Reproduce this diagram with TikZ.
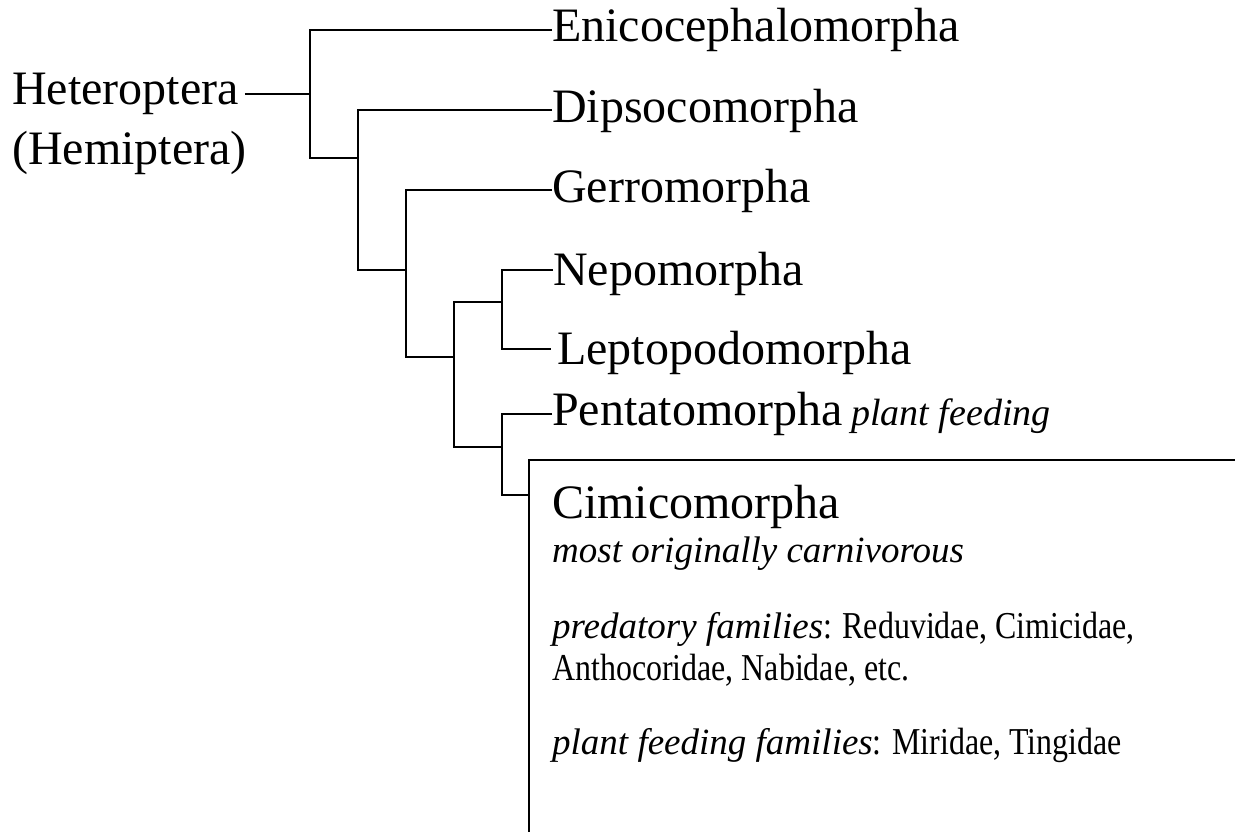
\documentclass[tikz,border=0pt]{standalone}
\usepackage{fontspec}
\setmainfont{Liberation Serif}
\newfontfamily\condfont[FakeStretch=0.84]{Liberation Serif}
\begin{document}
\begin{tikzpicture}[x=1pt,y=-1pt,
  taxon/.style={inner sep=0pt, anchor=west, font=\fontsize{48}{57}\selectfont},
  boxtxt/.style={inner sep=0pt, anchor=base west},
  branch/.style={draw=black, line width=2pt, line join=miter}]
\useasboundingbox (0,0) rectangle (1235,832);

% labels of the root
\node[taxon] (hetero) at (12,94) {Heteroptera};
\node[taxon, anchor=base west] (hemi) at (12,165) {(Hemiptera)};

% junctions
\coordinate (r) at (310,94);
\coordinate (nB) at (358,158);
\coordinate (nC) at (406,270);
\coordinate (nD) at (454,357);
\coordinate (nE) at (502,302);
\coordinate (nF) at (502,447);
\coordinate (boxjoin) at (529,495);
\coordinate (boxBL) at (529,832);
\coordinate (boxTR) at (1235,460);

% taxa
\node[taxon] (enico) at (552,30) {Enicocephalomorpha};
\node[taxon] (dipso) at (552,111) {Dipsocomorpha};
\node[taxon] (gerro) at (552,191) {Gerromorpha};
\node[taxon] (nepo) at (553,274) {Nepomorpha};
\node[taxon] (lepto) at (557,353) {Leptopodomorpha};
\node[taxon] (penta) at (552,414) {Pentatomorpha};
\node[boxtxt, font=\itshape\fontsize{38}{46}\selectfont] (pfeed) at ([xshift=8pt]penta.base east) {plant feeding};

% tree
\draw[branch] ([xshift=6pt]hetero.east) -- (r);
\draw[branch] (enico.west) -| (r) |- (nB);
\draw[branch] ([yshift=1pt]dipso.west) -| (nB) |- (nC);
\draw[branch] ([yshift=1pt]gerro.west) -| (nC) |- (nD);
\draw[branch] (nE) -| (nD) |- (nF);
\draw[branch] ([yshift=4pt]nepo.west) -| (nE) |- ([xshift=-6pt,yshift=4pt]lepto.west);
\draw[branch] (penta.west) -| (nF) |- (boxjoin);
\draw[branch] (boxBL) |- (boxTR);

% box text
\node[boxtxt, font=\fontsize{48}{57}\selectfont] (cimi) at (552,518) {Cimicomorpha};
\node[boxtxt, font=\itshape\fontsize{37}{44}\selectfont] (orig) at (552,562) {most originally carnivorous};
\node[boxtxt, font=\fontsize{37}{44}\selectfont] (pred) at (552,638) {\textit{predatory families}\condfont\fontsize{38}{46}\selectfont: Reduvidae, Cimicidae,};
\node[boxtxt, font=\condfont\fontsize{38}{46}\selectfont] (antho) at (552,680) {Anthocoridae, Nabidae, etc.};
\node[boxtxt, font=\fontsize{37}{44}\selectfont] (plantf) at (552,754) {\textit{plant feeding families}\condfont\fontsize{38}{46}\selectfont: Miridae, Tingidae};
\end{tikzpicture}
\end{document}
